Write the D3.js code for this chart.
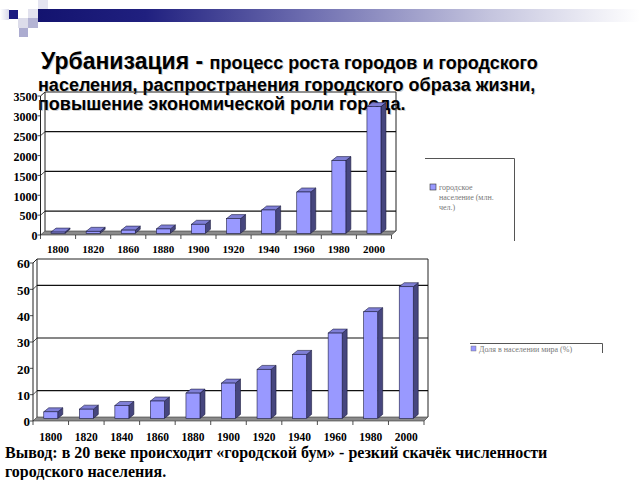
<!DOCTYPE html>
<html><head><meta charset="utf-8">
<script src="https://cdn.jsdelivr.net/npm/d3@7/dist/d3.min.js"></script>
<style>
html,body{margin:0;padding:0;background:#fff;}
svg{display:block;}
</style></head>
<body>
<svg id="c" width="640" height="480"></svg>
<script>
// ---- data ----
const years1 = ["1800","1820","1860","1880","1900","1920","1940","1960","1980","2000"];
const urbanPop = [30, 50, 80, 110, 227, 370, 587, 1040, 1831, 3190];
const yTicks1 = [0,500,1000,1500,2000,2500,3000,3500];
const grid1 = [500,1500,2500];
const legend1 = ["городское", "население (млн.", "чел.)"];

const years2 = ["1800","1820","1840","1860","1880","1900","1920","1940","1960","1980","2000"];
const urbanShare = [2.5, 3.5, 4.9, 6.6, 9.6, 13.4, 18.6, 24.3, 32.4, 40.5, 50];
const yTicks2 = [0,10,20,30,40,50,60];
const grid2 = [10,30,50];
const legend2 = "Доля в населении мира (%)";

const svg = d3.select("#c");
const defs = svg.append("defs");

// ---- header decoration ----
const grad = defs.append("linearGradient").attr("id","hdr").attr("x1","0").attr("x2","1").attr("y1","0").attr("y2","0");
[[0,"#13136f"],[0.18,"#20207f"],[0.45,"#6e6eb0"],[0.75,"#c4c4de"],[1,"#ffffff"]]
  .forEach(([o,c])=>grad.append("stop").attr("offset",o).attr("stop-color",c));
svg.append("rect").attr("x",37).attr("y",9).attr("width",603).attr("height",13).attr("fill","url(#hdr)");
const lg = defs.append("linearGradient").attr("id","lft").attr("x1","0").attr("x2","1");
lg.append("stop").attr("offset",0).attr("stop-color","#ffffff");
lg.append("stop").attr("offset",1).attr("stop-color","#d8d8ea");
svg.append("rect").attr("x",0).attr("y",9).attr("width",9).attr("height",11).attr("fill","url(#lft)");
const squares = [
  [9,10,9,9,"#1a1a80"],[28,9,10,9,"#e2e2ee"],[38,0,10,9,"#e4e4f0"],
  [28,18,10,10,"#b4b4d4"],[18,18,10,10,"#dcdcea"],[19,28,9,9,"#acacd0"]
];
squares.forEach(s=>svg.append("rect").attr("x",s[0]).attr("y",s[1]).attr("width",s[2]).attr("height",s[3]).attr("fill",s[4]));

// ---- title ----
const titleLines = [
  {x:41,y:69,parts:[["Урбанизация - ",23],["процесс роста городов и городского",18]]},
  {x:38,y:91,parts:[["населения, распространения городского образа жизни,",18]]},
  {x:38,y:110,parts:[["повышение экономической роли города.",18]]}
];
[["#cfcfcf",1,1],["#000",0,0]].forEach(([col,ox,oy])=>{
  titleLines.forEach(l=>{
    const t = svg.append("text").attr("x",l.x+ox).attr("y",l.y+oy)
      .attr("font-family","'Liberation Sans', Arial, sans-serif").attr("font-weight","bold").attr("fill",col);
    l.parts.forEach(p=>t.append("tspan").attr("font-size",p[1]).text(p[0]));
  });
});

// ---- 3D bar chart helper ----
function chart3d(cfg){
  const g = svg.append("g");
  const {cats, vals, x0, x1, yf0, yftop, dx, dy, max, ticks, grids} = cfg;
  const yF = d3.scaleLinear().domain([0,max]).range([yf0, yftop]);
  const yB = v => yF(v) - dy;
  const xb = d3.scaleBand().domain(cats).range([x0, x1]).padding(0);
  const line = (a,b,c,d,col="#000",w=1)=>g.append("line").attr("x1",a).attr("y1",b).attr("x2",c).attr("y2",d).attr("stroke",col).attr("stroke-width",w);
  // floor
  g.append("path").attr("d",`M${x0},${yF(0)}L${x1},${yF(0)}L${x1+dx},${yB(0)}L${x0+dx},${yB(0)}Z`)
    .attr("fill","#8a8a8a").attr("stroke","#333").attr("stroke-width",0.6);
  // back wall outline
  g.append("path").attr("d",`M${x0+dx},${yB(0)}L${x0+dx},${yB(max)}L${x1+dx},${yB(max)}L${x1+dx},${yB(0)}`)
    .attr("fill","none").attr("stroke","#222").attr("stroke-width",1);
  // left wall
  g.append("path").attr("d",`M${x0},${yF(0)}L${x0},${yF(max)}L${x0+dx},${yB(max)}`)
    .attr("fill","none").attr("stroke","#222").attr("stroke-width",1);
  // gridlines
  grids.forEach(v=>{
    line(x0, yF(v), x0+dx, yB(v), "#222", 0.8);
    line(x0+dx, yB(v), x1+dx, yB(v), "#111", 1.2);
  });
  // y tick labels
  ticks.forEach(v=>{
    line(x0-3, yF(v), x0, yF(v), "#222", 0.8);
    g.append("text").attr("x",x0-3).attr("y",yF(v)+cfg.labOff).attr("text-anchor","end")
      .attr("dominant-baseline","middle")
      .attr("font-family","'Liberation Serif', 'Times New Roman', serif").attr("font-weight","bold")
      .attr("font-size",cfg.yfs).text(v);
  });
  // x ticks
  cats.forEach((c,i)=>{ line(xb(c), yF(0), xb(c), yF(0)+4, "#222", 0.8); });
  line(x1, yF(0), x1, yF(0)+4, "#222", 0.8);
  // x labels
  cats.forEach(c=>{
    g.append("text").attr("x",xb(c)+xb.bandwidth()/2).attr("y",cfg.xlabY).attr("text-anchor","middle")
      .attr("font-family","'Liberation Serif', 'Times New Roman', serif").attr("font-weight","bold")
      .attr("font-size",cfg.xfs).text(c);
  });
  // bars
  const bw = cfg.bw, bdx = cfg.bdx, bdy = cfg.bdy, lift = cfg.lift;
  cats.forEach((c,i)=>{
    const v = vals[i];
    const cx = xb(c)+xb.bandwidth()/2;
    const l = cx - bw/2, r = cx + bw/2;
    const top = yF(v) - lift, bot = yF(0) - lift;
    g.append("path").attr("d",`M${r},${bot}L${r},${top}L${r+bdx},${top-bdy}L${r+bdx},${bot-bdy}Z`)
      .attr("fill","#46467e").attr("stroke","#1c1c40").attr("stroke-width",0.6);
    g.append("path").attr("d",`M${l},${top}L${r},${top}L${r+bdx},${top-bdy}L${l+bdx},${top-bdy}Z`)
      .attr("fill","#7f7fd6").attr("stroke","#1c1c40").attr("stroke-width",0.6);
    g.append("rect").attr("x",l).attr("y",top).attr("width",bw).attr("height",bot-top)
      .attr("fill","#9999ff").attr("stroke","#1c1c40").attr("stroke-width",0.6);
  });
  return g;
}

chart3d({cats:years1, vals:urbanPop, x0:40.5, x1:391.5, yf0:235, yftop:96, dx:4.5, dy:4, max:3500,
  ticks:yTicks1, grids:grid1, labOff:2.5, yfs:12, xfs:11, xlabY:252.5, bw:14, bdx:5, bdy:4, lift:1.7});
chart3d({cats:years2, vals:urbanShare, x0:33, x1:424, yf0:421, yftop:263, dx:4, dy:4, max:60,
  ticks:yTicks2, grids:grid2, labOff:2.5, yfs:13, xfs:11.5, xlabY:440.5, bw:14, bdx:5, bdy:4, lift:2.6});

// ---- legends ----
const lgd = svg.append("g");
lgd.append("path").attr("d","M425,158.5L514.5,158.5L514.5,241").attr("fill","none").attr("stroke","#555").attr("stroke-width",1);
lgd.append("rect").attr("x",430).attr("y",184).attr("width",6).attr("height",6).attr("fill","#9999ff").attr("stroke","#333").attr("stroke-width",0.6);
legend1.forEach((t,i)=>lgd.append("text").attr("x",439).attr("y",190+i*10)
  .attr("font-family","'Liberation Serif', 'Times New Roman', serif").attr("font-size",8).attr("fill","#777").text(t));
lgd.append("path").attr("d","M470,343.5L602.5,343.5L602.5,353").attr("fill","none").attr("stroke","#555").attr("stroke-width",1);
lgd.append("rect").attr("x",471).attr("y",346).attr("width",5).attr("height",5).attr("fill","#9999ff").attr("stroke","#666").attr("stroke-width",0.4);
lgd.append("text").attr("x",479).attr("y",351.5)
  .attr("font-family","'Liberation Serif', 'Times New Roman', serif").attr("font-size",8).attr("fill","#777").text(legend2);

// ---- conclusion ----
const concl = ["Вывод: в 20 веке происходит «городской бум» - резкий скачёк численности","городского населения."];
concl.forEach((t,i)=>svg.append("text").attr("x",5).attr("y",458+i*19)
  .attr("font-family","'Liberation Serif', 'Times New Roman', serif").attr("font-weight","bold")
  .attr("font-size",16).text(t));
</script>
</body></html>
